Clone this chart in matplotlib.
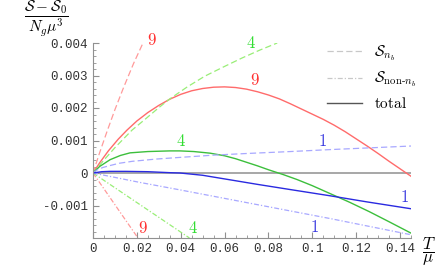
import matplotlib
matplotlib.use("Agg")
import matplotlib.pyplot as plt  # noqa: E402
from matplotlib.lines import Line2D  # noqa: E402
from matplotlib.ticker import MultipleLocator, FixedLocator  # noqa: E402

plt.rcParams["mathtext.fontset"] = "cm"

# values, T/mu vs (S-S0)/(Ng mu^3)
# n = 9 (red)
t9_nb = [0, 0.003, 0.0064, 0.01, 0.014, 0.0185, 0.0228]
s9_nb = [0, 0.00062, 0.00128, 0.00195, 0.00264, 0.00337, 0.0040]
t9_non = [0, 0.0205]
s9_non = [0, -0.0020]
t9_tot = [0, 0.003, 0.007, 0.0115, 0.0155, 0.02, 0.025, 0.03, 0.035, 0.04, 0.045,
          0.05, 0.055, 0.06, 0.065, 0.07, 0.075, 0.08, 0.085, 0.09, 0.095, 0.1,
          0.105, 0.11, 0.115, 0.12, 0.125, 0.13, 0.135, 0.14, 0.145]
s9_tot = [0, 0.00031, 0.00068, 0.00104, 0.00132, 0.0016, 0.00186, 0.00208, 0.00227,
          0.00242, 0.00253, 0.0026, 0.00264, 0.00265, 0.00263, 0.00258, 0.0025,
          0.0024, 0.00228, 0.00213, 0.00197, 0.00181, 0.00165, 0.00147, 0.00127,
          0.00105, 0.00083, 0.0006, 0.00036, 0.00013, -0.0001]

# n = 4 (green)
t4_nb = [0, 0.005, 0.01, 0.0178, 0.0237, 0.03, 0.035, 0.043, 0.051, 0.06, 0.068,
         0.076, 0.084]
s4_nb = [0, 0.0004, 0.00078, 0.00132, 0.00165, 0.00201, 0.00228, 0.00265, 0.00298,
         0.00328, 0.00354, 0.00378, 0.0040]
t4_non = [0, 0.044]
s4_non = [0, -0.0020]
t4_tot = [0, 0.003, 0.0078, 0.0125, 0.0169, 0.025, 0.035, 0.0397, 0.046, 0.0534,
          0.06, 0.065, 0.07, 0.075, 0.08, 0.0868, 0.093, 0.1, 0.108, 0.117, 0.126,
          0.135, 0.145]
s4_tot = [0, 0.0002, 0.00041, 0.00054, 0.00062, 0.00066, 0.00068, 0.00068, 0.00066,
          0.00061, 0.00053, 0.00044, 0.00033, 0.00022, 0.0001, -0.00005, -0.0002,
          -0.00039, -0.00063, -0.0009, -0.00119, -0.0015, -0.00185]

# n = 1 (blue)
t1_nb = [0, 0.002, 0.0045, 0.0078, 0.012, 0.018, 0.029, 0.0397, 0.055, 0.07, 0.09,
         0.108, 0.125, 0.145]
s1_nb = [0, 0.0001, 0.00017, 0.00023, 0.0003, 0.00036, 0.00043, 0.00048, 0.00055,
         0.0006, 0.00066, 0.00072, 0.00077, 0.00083]
t1_non = [0, 0.0214, 0.0397, 0.07, 0.108, 0.145]
s1_non = [0, -0.00029, -0.00052, -0.00091, -0.0014, -0.0019]
t1_tot = [0, 0.004, 0.0078, 0.015, 0.025, 0.035, 0.0397, 0.05, 0.0625, 0.075, 0.09,
          0.108, 0.125, 0.145]
s1_tot = [0, 0.00004, 0.00005, 0.00005, 0.00004, 0.00001, 0, -0.00007, -0.00021,
          -0.00035, -0.00051, -0.0007, -0.00089, -0.0011]

# curve labels: (T, value, text, colour key)
labels = [
    (0.027, 0.0041, "9", "r"), (0.074, 0.00286, "9", "r"), (0.0228, -0.00168, "9", "r"),
    (0.072, 0.0040, "4", "g"), (0.040, 0.0010, "4", "g"), (0.0456, -0.0017, "4", "g"),
    (0.1045, 0.0010, "1", "b"), (0.142, -0.00074, "1", "b"), (0.101, -0.00166, "1", "b"),
]

col = {
    "r": ("#ff6b6b", "#ff9a9a", "#ff3030"),
    "g": ("#3cbf3c", "#99ee77", "#33dd33"),
    "b": ("#2a2ae0", "#a8a8ff", "#3b3be0"),
}
dash = (0, (5, 2.5))
dashdot = (0, (4, 1.6, 1, 1.6))

fig = plt.figure(figsize=(4.41, 2.70), dpi=100)
ax = fig.add_axes([93 / 441, 32 / 270, 318 / 441, 195 / 270])

ax.plot([0, 0.145], [0, 0], color="#a0a0a0", lw=1.3, zorder=1)

for key, (tn, sn, tx, sx, tt, st) in {
    "r": (t9_nb, s9_nb, t9_non, s9_non, t9_tot, s9_tot),
    "g": (t4_nb, s4_nb, t4_non, s4_non, t4_tot, s4_tot),
    "b": (t1_nb, s1_nb, t1_non, s1_non, t1_tot, s1_tot),
}.items():
    solid, light, _ = col[key]
    ax.plot(tn, sn, color=light, lw=0.9, linestyle=dash)
    ax.plot(tx, sx, color=light, lw=0.9, linestyle=dashdot)
    ax.plot(tt, st, color=solid, lw=1.0)

for t, s, txt, key in labels:
    ax.text(t, s, f"${txt}$", color=col[key][2], fontsize=12,
            ha="center", va="center", clip_on=False)

ax.set_xlim(0, 0.145)
ax.set_ylim(-0.002, 0.004)
for side in ("top", "right"):
    ax.spines[side].set_visible(False)
for side in ("left", "bottom"):
    ax.spines[side].set_color("#909090")

ax.xaxis.set_major_locator(FixedLocator([0, 0.02, 0.04, 0.06, 0.08, 0.1, 0.12, 0.14]))
ax.set_xticklabels(["0", "0.02", "0.04", "0.06", "0.08", "0.1", "0.12", "0.14"])
ax.xaxis.set_minor_locator(MultipleLocator(0.005))
ax.yaxis.set_major_locator(FixedLocator([-0.001, 0, 0.001, 0.002, 0.003, 0.004]))
ax.set_yticklabels(["-0.001", "0", "0.001", "0.002", "0.003", "0.004"])
ax.yaxis.set_minor_locator(MultipleLocator(0.0002))
ax.tick_params(which="both", direction="in", color="#909090", labelcolor="#333333")
ax.tick_params(which="major", length=4, labelsize=9)
ax.tick_params(which="minor", length=2)
for lab in ax.get_xticklabels() + ax.get_yticklabels():
    lab.set_family("Liberation Mono")

fig.text(46 / 441, 1 - 19 / 270, r"$\dfrac{\mathcal{S}-\mathcal{S}_0}{N_g\mu^3}$",
         fontsize=11, ha="center", va="center")
fig.text(429 / 441, 1 - 252 / 270, r"$\dfrac{T}{\mu}$", fontsize=12,
         ha="center", va="center")

handles = [
    Line2D([], [], color="#c8c8c8", lw=0.9, linestyle=dash),
    Line2D([], [], color="#c8c8c8", lw=0.9, linestyle=dashdot),
    Line2D([], [], color="#555555", lw=1.0),
]
fig.legend(handles, [r"$\mathcal{S}_{n_b}$", r"$\mathcal{S}_{\mathrm{non}\text{-}n_b}$",
                     r"$\mathrm{total}$"],
           loc="upper left", bbox_to_anchor=(313 / 441, 1 - 30 / 270),
           frameon=False, fontsize=11, handlelength=2.3, handletextpad=0.8,
           labelspacing=0.45)

fig.savefig("out.png", dpi=100)
